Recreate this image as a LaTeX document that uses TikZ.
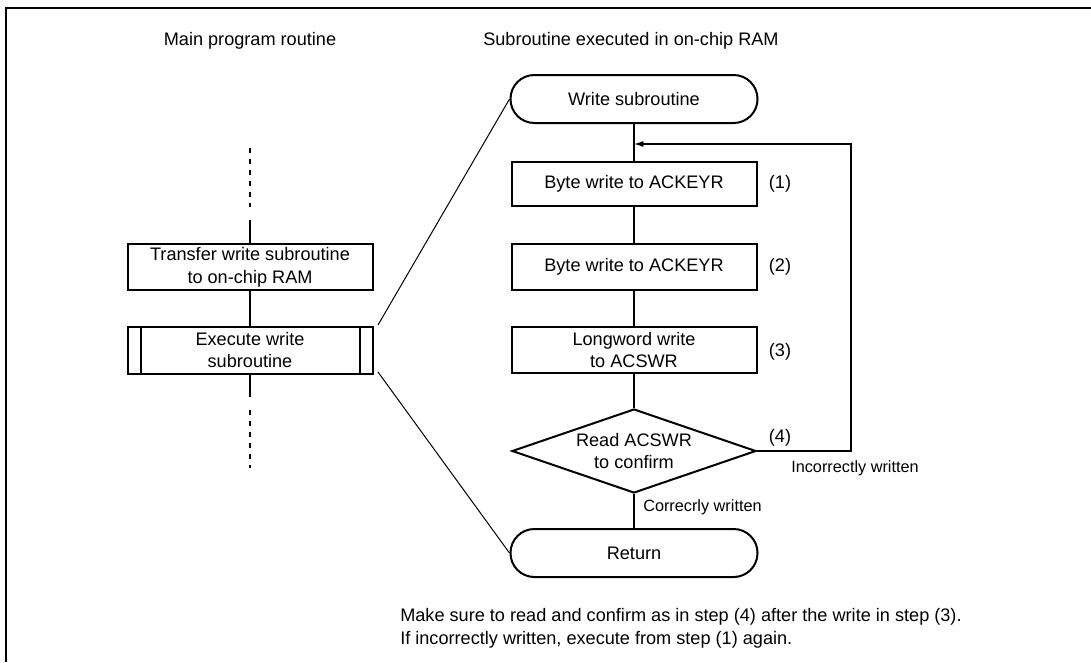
\documentclass[tikz,border=0pt]{standalone}
\usepackage{fontspec}
\setmainfont{Liberation Sans}
\usetikzlibrary{shapes.geometric,arrows.meta}
\begin{document}
\begin{tikzpicture}[x=0.75pt,y=-0.75pt,
  every node/.style={font=\fontsize{13.6pt}{17pt}\selectfont, inner sep=0pt},
  boxst/.style={draw, line width=1.5pt, minimum width=183.75pt, minimum height=34.5pt, align=center},
  termst/.style={draw, line width=1.5pt, rounded corners=17.9pt, minimum width=185.25pt, minimum height=36pt, align=center},
  decst/.style={draw, diamond, line width=1.5pt, minimum width=183pt, minimum height=63pt, aspect=2.9, align=center},
  conn/.style={line width=0.9pt},
  thin/.style={line width=0.75pt},
  dashst/.style={line width=1.1pt, dash pattern=on 3.75pt off 4.5pt},
  lbl/.style={font=\fontsize{13.6pt}{17pt}\selectfont},
  small/.style={font=\fontsize{12.2pt}{15pt}\selectfont}
]
\useasboundingbox (0,0) rectangle (1091,662);
% frame (only top and left visible)
\draw[line width=1.8pt] (6,662) -- (6,8) -- (1091,8);

% titles
\node (mainT) at (250,41) {Main program routine};
\node[anchor=west] (subT) at (483,41) {Subroutine executed in on-chip RAM};

% main column
\coordinate (d1a) at (250,148);
\coordinate (d1b) at (250,207);
\coordinate (s1) at (250,220);
\node[boxst] (transfer) at (250,267) {Transfer write subroutine\\to on-chip RAM};
\node[boxst, minimum height=35.25pt] (execute) at (250,350) {Execute write\\subroutine};
\draw[line width=1.5pt] ([xshift=10.5pt]execute.north west) -- ([xshift=10.5pt]execute.south west);
\draw[line width=1.5pt] ([xshift=-10.5pt]execute.north east) -- ([xshift=-10.5pt]execute.south east);
\coordinate (s2) at (250,397);
\coordinate (d2a) at (250,410);
\coordinate (d2b) at (250,468);
\draw[dashst] (d1a) -- (d1b);
\draw[conn] (s1) -- (transfer.north);
\draw[conn] (transfer.south) -- (execute.north);
\draw[conn] (execute.south) -- (s2);
\draw[dashst] (d2a) -- (d2b);

% subroutine column
\node[termst] (ws) at (634,99) {Write subroutine};
\node[boxst, minimum height=33pt] (b1) at (634,184) {Byte write to ACKEYR};
\node[boxst] (b2) at (634,267) {Byte write to ACKEYR};
\node[boxst] (b3) at (634,350) {Longword write\\to ACSWR};
\node[decst] (dm) at (634,451) {Read ACSWR\\to confirm};
\node[termst] (ret) at (634,553) {Return};

\node[lbl] (l1) at (780,184) {(1)};
\node[lbl] (l2) at (780,267) {(2)};
\node[lbl] (l3) at (780,352) {(3)};
\node[lbl] (l4) at (780,438) {(4)};
\node[small] (inc) at (855,468) {Incorrectly written};
\node[small, anchor=west] (cor) at (643,507) {Correcrly written};

\coordinate (jn) at (634,144);
\coordinate (lp1) at (851,451);
\coordinate (lp2) at (851,144);
\draw[conn] (ws.south) -- (b1.north);
\draw[conn] (b1.south) -- (b2.north);
\draw[conn] (b2.south) -- (b3.north);
\draw[conn] (b3.south) -- (dm.north);
\draw[conn] (dm.south) -- (ret.north);
\draw[conn, -{Latex[length=7pt,width=4.5pt]}] (dm.east) -- (lp1) -- (lp2) -- (jn);

% diagonals
\coordinate (e1) at (378,325);
\coordinate (e2) at (378,372);
\draw[thin] (e1) -- (ws.west);
\draw[thin] (e2) -- (ret.west);

% note
\node[anchor=west, align=left] (note) at (400,628) {Make sure to read and confirm as in step (4) after the write in step (3).\\If incorrectly written, execute from step (1) again.};
\end{tikzpicture}
\end{document}
